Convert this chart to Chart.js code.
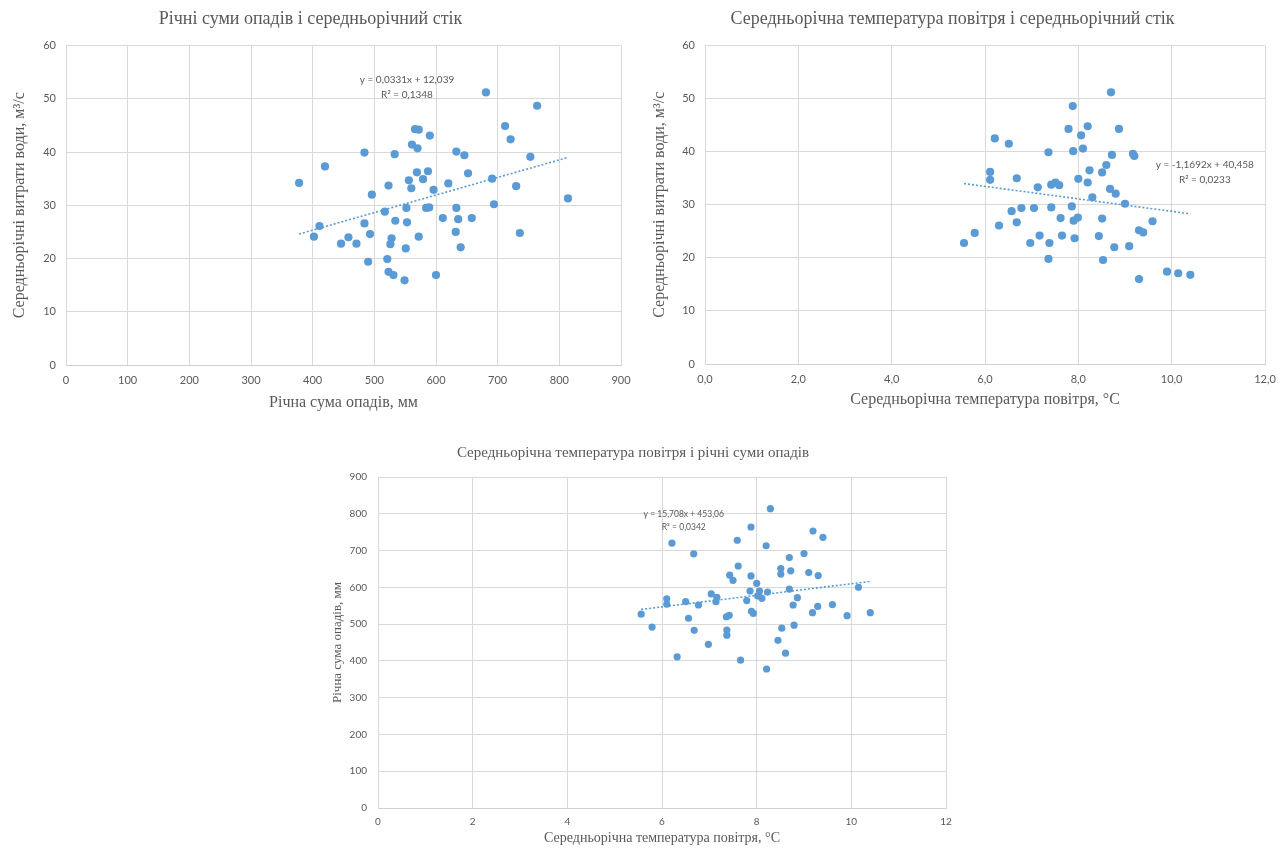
<!DOCTYPE html>
<html>
<head>
<meta charset="utf-8">
<script src="https://cdn.jsdelivr.net/npm/chart.js@4"></script>
<style>
  body { margin: 0; background: #fff; width: 1286px; height: 850px; overflow: hidden; }
  .box { position: absolute; }
</style>
</head>
<body>
<div class="box" style="left:0;top:0"><canvas id="chart_precip_runoff" width="640" height="420"></canvas></div>
<div class="box" style="left:640px;top:0"><canvas id="chart_temp_runoff" width="646" height="420"></canvas></div>
<div class="box" style="left:320px;top:430px"><canvas id="chart_temp_precip" width="660" height="420"></canvas></div>
<script>
// chart 1: річна сума опадів (мм) vs середньорічний стік (м3/с)
const precip_1 = [378,420,411,402,446,458,471,484,484,496,493,490,517,523,533,534,528,526,521,523,531,549,551,553,552,556,560,561,566,572,570,569,572,579,584,589,587,590,596,600,611,620,633,633,632,636,640,646,652,658,681,691,694,712,721,730,736,753,764,814]
const runoff_1 = [34.2,37.3,26.1,24.1,22.8,24.0,22.8,39.9,26.6,32.0,24.6,19.4,28.8,33.7,39.6,27.1,23.8,22.7,19.9,17.5,16.9,15.9,21.9,26.8,29.5,34.7,33.2,41.4,44.3,44.2,40.7,36.2,24.1,34.9,29.5,29.6,36.4,43.1,32.9,16.9,27.6,34.1,40.1,29.5,25.0,27.4,22.1,39.4,36.0,27.6,51.2,35.0,30.2,44.9,42.4,33.6,24.8,39.1,48.7,31.3]
const trend_1_x = [378, 814]
const trend_1_y = [24.6, 39.0]
const trend_1_text = ['y = 0,0331x + 12,039', 'R² = 0,1348']

// chart 2: середньорічна температура (°C) vs середньорічний стік
const temp_2 = [5.55,5.78,6.11,6.11,6.21,6.30,6.51,6.57,6.68,6.68,6.78,6.97,7.05,7.13,7.17,7.36,7.38,7.36,7.42,7.42,7.51,7.59,7.62,7.65,7.79,7.86,7.88,7.89,7.90,7.92,7.99,8.00,8.06,8.10,8.20,8.20,8.24,8.30,8.44,8.51,8.51,8.53,8.60,8.68,8.70,8.72,8.77,8.80,8.87,9.00,9.09,9.17,9.20,9.30,9.39,9.30,9.59,9.90,10.14,10.40]
const runoff_2 = [22.8,24.7,36.2,34.7,42.5,26.1,41.5,28.8,35.0,26.7,29.4,22.8,29.4,33.3,24.2,39.9,22.8,19.8,29.5,33.8,34.2,33.7,27.5,24.2,44.3,29.7,48.6,40.1,27.0,23.7,27.6,34.9,43.1,40.6,44.8,34.2,36.5,31.4,24.1,36.1,27.4,19.6,37.5,33.0,51.2,39.4,22.0,32.1,44.3,30.2,22.2,39.6,39.2,25.2,24.8,16.0,26.9,17.4,17.1,16.8]
const trend_2_x = [5.55, 10.4]
const trend_2_y = [34.0, 28.3]
const trend_2_text = ['y = -1,1692x + 40,458', 'R² = 0,0233']

// chart 3: середньорічна температура vs річна сума опадів
const temp_3 = [5.56,5.79,6.10,6.10,6.21,6.32,6.50,6.56,6.67,6.68,6.77,6.98,7.04,7.16,7.14,7.36,7.42,7.37,7.37,7.43,7.50,7.59,7.61,7.66,7.79,7.86,7.88,7.88,7.89,7.93,8.00,8.02,8.06,8.11,8.20,8.21,8.23,8.29,8.45,8.51,8.51,8.53,8.61,8.69,8.69,8.72,8.77,8.79,8.86,9.00,9.10,9.18,9.19,9.29,9.30,9.40,9.60,9.91,10.15,10.40]
const precip_3 = [527,492,569,554,720,411,561,516,691,483,552,445,582,573,561,520,524,484,470,633,619,728,658,402,564,590,764,631,535,529,611,577,590,570,713,378,587,814,456,651,636,489,421,681,595,645,552,497,572,692,640,531,753,548,632,736,553,523,600,531]
const trend_3_x = [5.56, 10.4]
const trend_3_y = [540, 616]
const trend_3_text = ['y = 15,708x + 453,06', 'R² = 0,0342']

const BLUE = '#5b9bd5'
const GREY_TEXT = '#595959'
const SERIF = "'Liberation Serif', 'DejaVu Serif', serif"
const SANS = "Lato, 'Liberation Sans', sans-serif"

const to_points = (xs, ys) => xs.map((x, i) => ({x: x, y: ys[i]}))

// draws the trendline equation text at a data position
const trend_label_plugin = {
    id: 'trend_label',
    afterDatasetsDraw(chart, args, opts) {
        const {ctx, scales: {x, y}} = chart
        const px = x.getPixelForValue(opts.x)
        const py = y.getPixelForValue(opts.y)
        ctx.save()
        ctx.font = `${opts.size}px ${SANS}`
        ctx.fillStyle = GREY_TEXT
        ctx.textAlign = 'center'
        ctx.textBaseline = 'middle'
        opts.lines.forEach((line, i) => ctx.fillText(line, px, py + i * opts.size * 1.5))
        ctx.restore()
    }
}

const scatter_chart = (canvas_id, s) => {
    let canvas = document.getElementById(canvas_id)
    const config = {
        type: 'scatter',
        data: {
            datasets: [
                {
                    type: 'line',
                    data: to_points(s.trend_x, s.trend_y),
                    borderColor: BLUE,
                    borderWidth: 1.6,
                    borderDash: [2, 2],
                    pointRadius: 0,
                    fill: false,
                    order: 0
                },
                {
                    data: to_points(s.xs, s.ys),
                    backgroundColor: BLUE,
                    borderColor: BLUE,
                    borderWidth: 0,
                    pointRadius: s.radius,
                    order: 1
                }
            ]
        },
        options: {
            responsive: false,
            animation: false,
            layout: { padding: { left: 0, right: s.pad_right, top: 0, bottom: 0 } },
            plugins: {
                legend: { display: false },
                tooltip: { enabled: false },
                title: {
                    display: true,
                    text: s.title,
                    color: GREY_TEXT,
                    font: { family: SERIF, size: s.title_size, weight: 'normal' },
                    padding: { top: s.title_pad[0], bottom: s.title_pad[1] }
                },
                trend_label: { lines: s.trend_text, x: s.label_at[0], y: s.label_at[1], size: s.label_size }
            },
            scales: {
                x: {
                    type: 'linear',
                    min: s.x_range[0],
                    max: s.x_range[1],
                    afterFit: (scale) => { scale.height = s.x_height },
                    ticks: {
                        stepSize: s.x_range[2],
                        color: GREY_TEXT,
                        font: { family: SANS, size: s.tick_size },
                        padding: s.x_tick_pad,
                        maxRotation: 0,
                        callback: s.x_fmt
                    },
                    grid: { color: '#d9d9d9', lineWidth: 1, drawTicks: false },
                    border: { color: '#d0d0d0' },
                    title: {
                        display: true,
                        text: s.x_title,
                        color: GREY_TEXT,
                        font: { family: SERIF, size: s.x_title_size },
                        padding: { top: 0, bottom: s.x_title_pad }
                    }
                },
                y: {
                    type: 'linear',
                    min: s.y_range[0],
                    max: s.y_range[1],
                    afterFit: (scale) => { scale.width = s.y_width },
                    ticks: {
                        stepSize: s.y_range[2],
                        color: GREY_TEXT,
                        font: { family: SANS, size: s.tick_size },
                        padding: s.y_tick_pad
                    },
                    grid: { color: '#d9d9d9', lineWidth: 1, drawTicks: false },
                    border: { color: '#d9d9d9' },
                    title: {
                        display: true,
                        text: s.y_title,
                        color: GREY_TEXT,
                        font: { family: SERIF, size: s.y_title_size },
                        padding: { top: s.y_title_pad, bottom: 0 }
                    }
                }
            }
        },
        plugins: [trend_label_plugin]
    }
    new Chart(canvas, config)
}

const comma_1 = (v) => v.toFixed(1).replace('.', ',')

scatter_chart('chart_precip_runoff', {
    xs: precip_1, ys: runoff_1, trend_x: trend_1_x, trend_y: trend_1_y, trend_text: trend_1_text,
    title: 'Річні суми опадів і середньорічний стік', title_size: 18, title_pad: [8, 16],
    x_title: 'Річна сума опадів, мм', x_title_size: 16, x_title_pad: 8,
    y_title: 'Середньорічні витрати води, м³/с', y_title_size: 16, y_title_pad: 10,
    x_range: [0, 900, 100], y_range: [0, 60, 10],
    x_height: 55, y_width: 66, pad_right: 19, x_tick_pad: 9, y_tick_pad: 10, tick_size: 11,
    radius: 4.1, label_at: [553, 53.6], label_size: 10
})

scatter_chart('chart_temp_runoff', {
    xs: temp_2, ys: runoff_2, trend_x: trend_2_x, trend_y: trend_2_y, trend_text: trend_2_text,
    title: 'Середньорічна температура повітря і середньорічний стік', title_size: 18, title_pad: [8, 16],
    x_title: 'Середньорічна температура повітря, °C', x_title_size: 16, x_title_pad: 11,
    y_title: 'Середньорічні витрати води, м³/с', y_title_size: 16, y_title_pad: 10,
    x_range: [0, 12, 2], y_range: [0, 60, 10],
    x_height: 56, y_width: 65, pad_right: 21, x_tick_pad: 9, y_tick_pad: 10, tick_size: 11,
    radius: 4.1, label_at: [10.71, 37.5], label_size: 10, x_fmt: comma_1
})

scatter_chart('chart_temp_precip', {
    xs: temp_3, ys: precip_3, trend_x: trend_3_x, trend_y: trend_3_y, trend_text: trend_3_text,
    title: 'Середньорічна температура повітря і річні суми опадів', title_size: 15, title_pad: [14, 15],
    x_title: 'Середньорічна температура повітря, °C', x_title_size: 14, x_title_pad: 3,
    y_title: 'Річна сума опадів, мм', y_title_size: 13, y_title_pad: 10,
    x_range: [0, 12, 2], y_range: [0, 900, 100],
    x_height: 42, y_width: 58, pad_right: 34, x_tick_pad: 8, y_tick_pad: 11, tick_size: 10,
    radius: 3.6, label_at: [6.46, 799], label_size: 8.5
})
</script>
</body>
</html>
